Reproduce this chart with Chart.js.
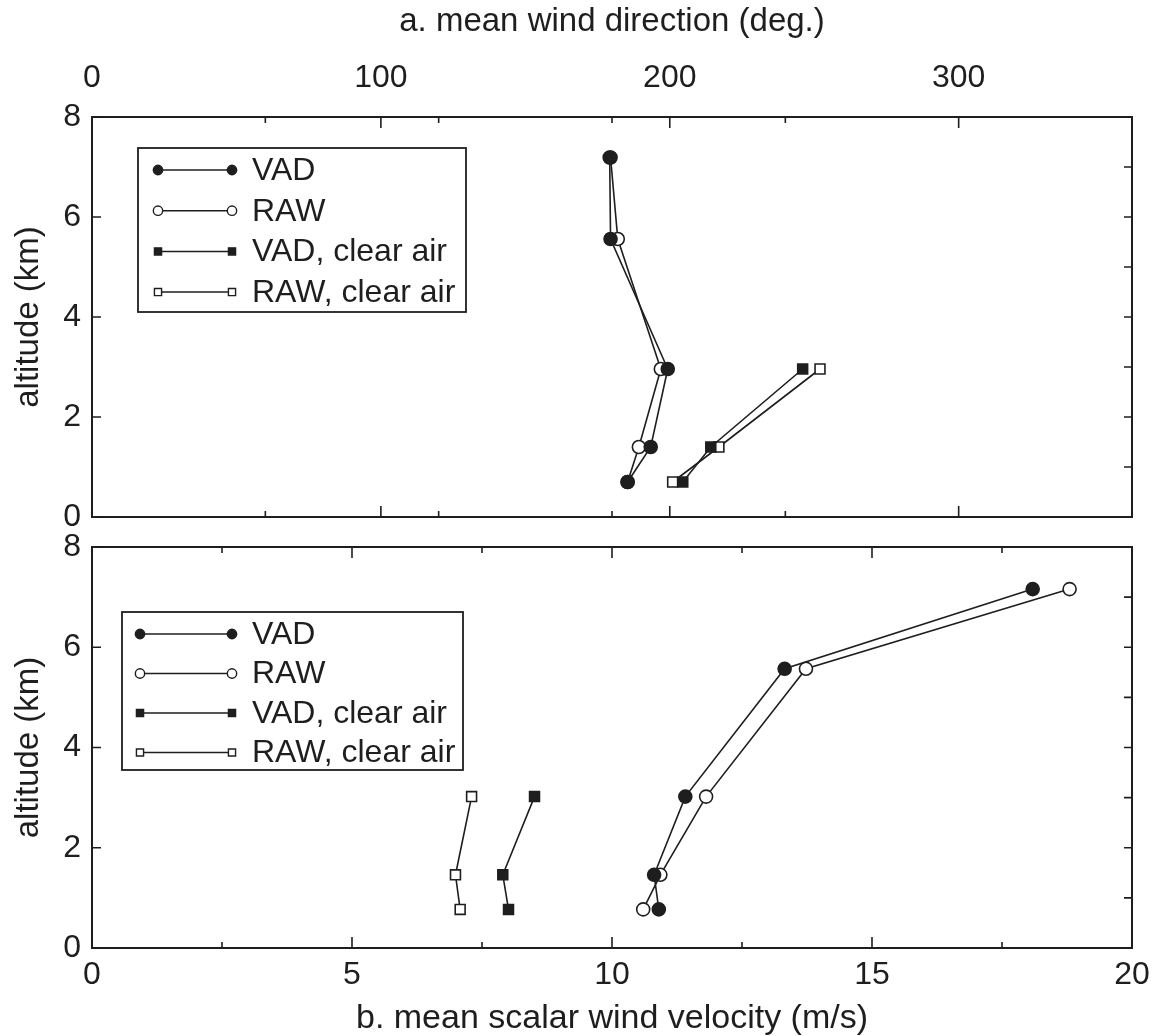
<!DOCTYPE html>
<html>
<head>
<meta charset="utf-8">
<title>wind profiles</title>
<script src="https://cdn.jsdelivr.net/npm/chart.js@4.4.1/dist/chart.umd.min.js"></script>
<style>
  html, body { margin: 0; padding: 0; background: #fff; }
  .panel { position: absolute; left: 0; width: 1156px; }
  #panelA { top: 0; height: 532px; }
  #panelB { top: 532px; height: 504px; }
</style>
</head>
<body>
<div class="panel" id="panelA"><canvas id="chartA" width="1156" height="532"></canvas></div>
<div class="panel" id="panelB"><canvas id="chartB" width="1156" height="504"></canvas></div>
<script>
// series names (legend)
const seriesNames = ["VAD", "RAW", "VAD, clear air", "RAW, clear air"];

// altitudes of the levels (km)
const altA = [0.70, 1.40, 2.96, 5.56, 7.19];
const altB = [0.77, 1.46, 3.02, 5.57, 7.16];

// a. mean wind direction (deg.)
const dirVAD = [185.4, 193.4, 199.3, 179.5, 179.2];
const dirRAW = [185.4, 189.3, 196.9, 182.0, 179.5];
const dirVADclear = [204.5, 214.2, 246.0];
const dirRAWclear = [201.0, 217.0, 252.0];

// b. mean scalar wind velocity (m/s)
const velVAD = [10.90, 10.81, 11.41, 13.32, 18.09];
const velRAW = [10.60, 10.93, 11.81, 13.73, 18.80];
const velVADclear = [8.01, 7.90, 8.51];
const velRAWclear = [7.08, 6.99, 7.30];

// ticks
const dirTicks = [0, 60, 100, 120, 180, 200, 240, 300, 360];
const dirLabels = [0, 100, 200, 300];
const velTicks = [0, 2.5, 5, 7.5, 10, 12.5, 15, 17.5, 20];
const velLabels = [0, 5, 10, 15, 20];
const altTicks = [0, 2, 4, 6, 8];
const altMinorTicks = [0, 1, 2, 3, 4, 5, 6, 7, 8];

const ink = "#1e1e1e";
const fontFamily = '"Liberation Sans", Arial, Helvetica, sans-serif';

function makeSeries(label, xs, ys, style, filled) {
  return {
    label: label,
    data: xs.map((v, i) => ({ x: v, y: ys[i] })),
    showLine: true,
    borderColor: ink,
    borderWidth: 1.6,
    pointStyle: style,
    pointRadius: style === "rect" ? 7 : 6.5,
    pointHoverRadius: style === "rect" ? 7 : 6.5,
    pointBorderWidth: 1.6,
    pointBorderColor: ink,
    pointBackgroundColor: filled ? ink : "#fff"
  };
}

// frame round the plot with inward tick marks on all four sides
const framePlugin = {
  id: "frame",
  afterDraw(chart, args, opts) {
    const ctx = chart.ctx;
    const a = chart.chartArea;
    const xs = chart.scales.x;
    const ys = chart.scales.y;
    ctx.save();
    ctx.strokeStyle = ink;
    ctx.lineWidth = 2;
    ctx.strokeRect(a.left, a.top, a.right - a.left, a.bottom - a.top);
    ctx.lineWidth = 1.6;
    ctx.beginPath();
    xs.ticks.forEach(t => {
      const px = xs.getPixelForValue(t.value);
      const len = opts.xMajor.includes(t.value) ? 11 : 6;
      ctx.moveTo(px, a.top); ctx.lineTo(px, a.top + len);
      ctx.moveTo(px, a.bottom); ctx.lineTo(px, a.bottom - len);
    });
    altTicks.forEach(v => {
      const py = ys.getPixelForValue(v);
      ctx.moveTo(a.left, py); ctx.lineTo(a.left + 9, py);
    });
    altMinorTicks.forEach(v => {
      const py = ys.getPixelForValue(v);
      ctx.moveTo(a.right, py); ctx.lineTo(a.right - 8, py);
    });
    ctx.stroke();
    ctx.restore();
  }
};

// boxed legend inside the plot
const boxLegendPlugin = {
  id: "boxLegend",
  afterDraw(chart, args, o) {
    const ctx = chart.ctx;
    ctx.save();
    ctx.fillStyle = "#fff";
    ctx.fillRect(o.left, o.top, o.right - o.left, o.bottom - o.top);
    ctx.strokeStyle = ink;
    ctx.lineWidth = 1.8;
    ctx.strokeRect(o.left, o.top, o.right - o.left, o.bottom - o.top);
    ctx.font = "32px " + fontFamily;
    ctx.textBaseline = "middle";
    chart.data.datasets.forEach((ds, i) => {
      const y = o.top + o.firstRow + i * o.rowGap;
      ctx.strokeStyle = ink;
      ctx.lineWidth = 1.5;
      ctx.beginPath();
      ctx.moveTo(o.lineFrom, y);
      ctx.lineTo(o.lineTo, y);
      ctx.stroke();
      [o.lineFrom, o.lineTo].forEach(x => {
        ctx.fillStyle = ds.pointBackgroundColor;
        ctx.strokeStyle = ink;
        ctx.lineWidth = 1.4;
        Chart.helpers.drawPoint(ctx, {
          pointStyle: ds.pointStyle,
          radius: ds.pointRadius * 0.72,
          borderWidth: 1.4,
          rotation: 0
        }, x, y);
      });
      ctx.fillStyle = ink;
      ctx.fillText(ds.label, o.textX, y + 1);
    });
    ctx.restore();
  }
};

function yScale() {
  return {
    type: "linear",
    min: 0,
    max: 8,
    afterBuildTicks: s => { s.ticks = altTicks.map(v => ({ value: v })); },
    afterFit: s => { s.width = 92; },
    grid: { display: false, drawTicks: false },
    border: { display: false },
    // small lineHeight keeps the label overhang from pushing the plot area
    ticks: { font: { size: 32, family: fontFamily, lineHeight: 0.25 }, color: ink, padding: 11 },
    title: {
      display: true,
      text: "altitude (km)",
      color: ink,
      font: { size: 33, family: fontFamily, lineHeight: 1.0 },
      padding: { top: 12, bottom: 0 }
    }
  };
}

new Chart(document.getElementById("chartA"), {
  type: "scatter",
  data: {
    datasets: [
      makeSeries(seriesNames[0], dirVAD, altA, "circle", true),
      makeSeries(seriesNames[1], dirRAW, altA, "circle", false),
      makeSeries(seriesNames[2], dirVADclear, altA.slice(0, 3), "rect", true),
      makeSeries(seriesNames[3], dirRAWclear, altA.slice(0, 3), "rect", false)
    ]
  },
  options: {
    responsive: false,
    animation: false,
    events: [],
    layout: { padding: { left: 0, right: 24, top: 0, bottom: 15 } },
    scales: {
      x: {
        type: "linear",
        position: "top",
        min: 0,
        max: 360,
        afterBuildTicks: s => { s.ticks = dirTicks.map(v => ({ value: v })); },
        afterFit: s => { s.height = 117; },
        grid: { display: false, drawTicks: false },
        border: { display: false },
        ticks: {
          font: { size: 32, family: fontFamily, lineHeight: 2.44 },
          color: ink,
          padding: 0,
          autoSkip: false,
          maxRotation: 0,
          callback: v => dirLabels.includes(v) ? String(v) : ""
        },
        title: {
          display: true,
          text: "a. mean wind direction (deg.)",
          color: ink,
          font: { size: 33, family: fontFamily, lineHeight: 1.0 },
          padding: { top: 5, bottom: 0 }
        }
      },
      y: yScale()
    },
    plugins: {
      legend: { display: false },
      tooltip: { enabled: false },
      frame: { xMajor: dirLabels },
      boxLegend: {
        left: 138, top: 148, right: 466, bottom: 312,
        firstRow: 22, rowGap: 40.7,
        lineFrom: 158, lineTo: 232, textX: 252
      }
    }
  },
  plugins: [framePlugin, boxLegendPlugin]
});

new Chart(document.getElementById("chartB"), {
  type: "scatter",
  data: {
    datasets: [
      makeSeries(seriesNames[0], velVAD, altB, "circle", true),
      makeSeries(seriesNames[1], velRAW, altB, "circle", false),
      makeSeries(seriesNames[2], velVADclear, altB.slice(0, 3), "rect", true),
      makeSeries(seriesNames[3], velRAWclear, altB.slice(0, 3), "rect", false)
    ]
  },
  options: {
    responsive: false,
    animation: false,
    events: [],
    layout: { padding: { left: 0, right: 24, top: 15, bottom: 0 } },
    scales: {
      x: {
        type: "linear",
        position: "bottom",
        min: 0,
        max: 20,
        afterBuildTicks: s => { s.ticks = velTicks.map(v => ({ value: v })); },
        afterFit: s => { s.height = 88; },
        grid: { display: false, drawTicks: false },
        border: { display: false },
        ticks: {
          font: { size: 32, family: fontFamily, lineHeight: 1.69 },
          color: ink,
          padding: 0,
          autoSkip: false,
          maxRotation: 0,
          callback: v => velLabels.includes(v) ? String(v) : ""
        },
        title: {
          display: true,
          text: "b. mean scalar wind velocity (m/s)",
          color: ink,
          font: { size: 34, family: fontFamily, lineHeight: 1.0 },
          padding: { top: 0, bottom: 0 }
        }
      },
      y: yScale()
    },
    plugins: {
      legend: { display: false },
      tooltip: { enabled: false },
      frame: { xMajor: velLabels },
      boxLegend: {
        left: 122, top: 80, right: 463, bottom: 238,
        firstRow: 22, rowGap: 39.5,
        lineFrom: 140, lineTo: 232, textX: 252
      }
    }
  },
  plugins: [framePlugin, boxLegendPlugin]
});
</script>
</body>
</html>
